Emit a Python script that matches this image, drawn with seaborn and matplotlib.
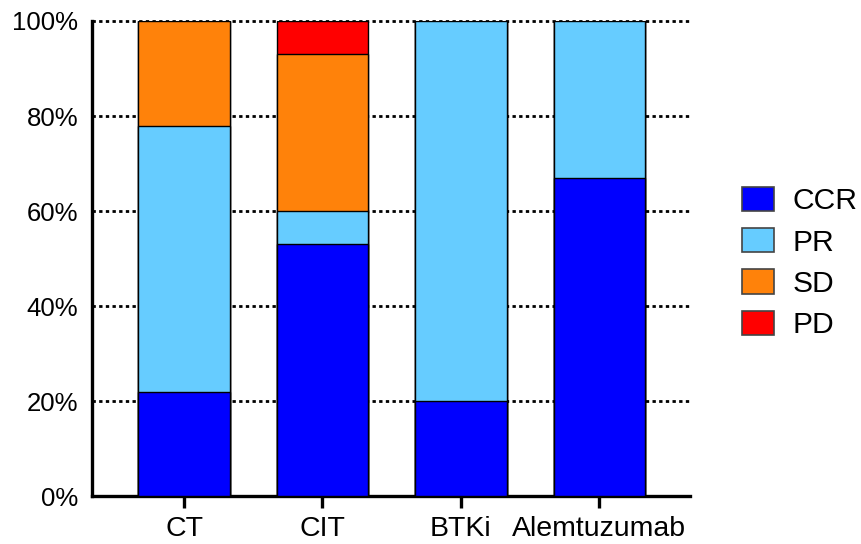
import numpy as np
import pandas as pd
import seaborn as sns
from matplotlib import pyplot as plt
from matplotlib.patches import Patch

# response share (%) per therapy group
groups = ['CT', 'CIT', 'BTKi', 'Alemtuzumab']
ccr = [22, 53, 20, 67]
pr = [56, 7, 80, 33]
sd = [22, 33, 0, 0]
pd_ = [0, 7, 0, 0]

series = ['CCR', 'PR', 'SD', 'PD']
colors = {'CCR': '#0000FF', 'PR': '#66CCFF', 'SD': '#FF820A', 'PD': '#FF0000'}
y_ticks = [0, 20, 40, 60, 80, 100]


def main():
    sns.set_style('white')
    plt.rcParams['font.family'] = ['Liberation Sans', 'DejaVu Sans']
    plt.rcParams['text.color'] = 'black'

    df = pd.DataFrame({'group': groups, 'CCR': ccr, 'PR': pr, 'SD': sd, 'PD': pd_})
    cum = df[series].cumsum(axis=1)

    fig = plt.figure(figsize=(8.62, 5.44), dpi=100)
    ax = fig.add_axes([0.1067, 0.0882, 0.6938, 0.8732])

    # draw the cumulative totals from top layer down so they stack
    for s in reversed(series):
        sns.barplot(x=df['group'], y=cum[s], order=groups, color=colors[s],
                    saturation=1, width=0.66, edgecolor='black', linewidth=1,
                    ax=ax, zorder=3)

    ax.set_xlim(-0.665, 3.655)
    ax.set_ylim(0, 100)
    ax.set_yticks(y_ticks)
    ax.set_yticklabels([f'{t}%' for t in y_ticks])
    for t in y_ticks[1:]:
        ax.axhline(t, color='black', linestyle=(0, (1.2, 1.2)), linewidth=2,
                   zorder=1, clip_on=False)

    ax.set_xlabel('')
    ax.set_ylabel('')
    sns.despine(ax=ax)
    for side in ['left', 'bottom']:
        ax.spines[side].set_linewidth(2.4)
        ax.spines[side].set_color('black')
    ax.tick_params(axis='y', left=False, length=0, pad=10, labelsize=18.5,
                   labelcolor='black')
    ax.tick_params(axis='x', bottom=True, length=8.5, width=2.4, direction='out',
                   pad=6, labelsize=20.5, color='black', labelcolor='black')

    handles = [Patch(facecolor=colors[s], edgecolor='#444444', linewidth=1.2) for s in series]
    fig.legend(handles, series, loc='center left', bbox_to_anchor=(0.847, 0.5165),
               frameon=False, fontsize=21.6, handlelength=1.07, handleheight=0.87,
               handletextpad=0.6, labelspacing=0.43, borderaxespad=0,
               labelcolor='black')

    fig.savefig('out.png', dpi=100)


if __name__ == '__main__':
    main()
